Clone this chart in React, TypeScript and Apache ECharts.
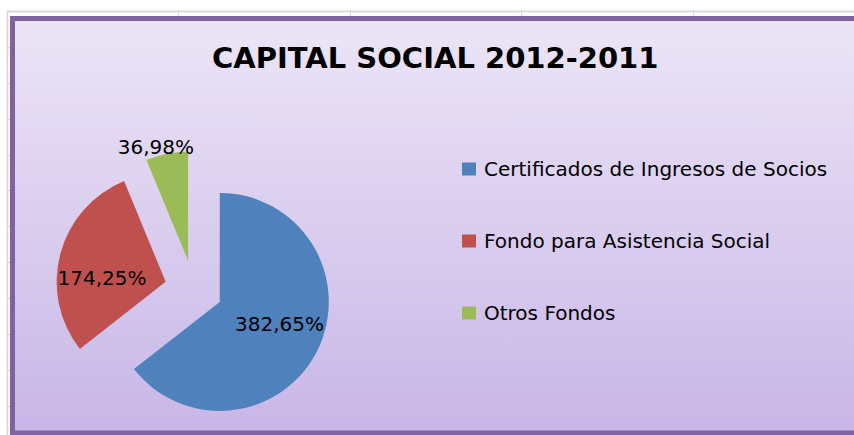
import React, { useEffect, useRef } from "react";
import * as echarts from "echarts";

const categories = [
  "Certificados de Ingresos de Socios",
  "Fondo para Asistencia Social",
  "Otros Fondos",
];
const values = [382.65, 174.25, 36.98];
const colors = ["#4F81BD", "#C0504D", "#9BBB59"];
const titleText = "CAPITAL SOCIAL 2012-2011";

// label nudges (dx, dy) per slice, styling only
const labelNudge = [
  [8, -3],
  [-8, 11],
  [-21, -57],
];

const fmt = (v: number) => v.toFixed(2).replace(".", ",") + "%";

export default function App() {
  const ref = useRef<HTMLDivElement>(null);
  useEffect(() => {
    if (!ref.current) return;
    const chart = echarts.init(ref.current, null, { renderer: "svg" });
    const W = 854;
    const H = 435;
    const rowYs = [47.5, 83.5, 119.5, 155.5, 190.5, 226.5, 262.5, 298.5, 334.5, 370.5, 406.5];
    const colXs = [178.5, 350.5, 521.5, 693.5];
    const grid: any[] = [
      {
        type: "line",
        shape: { x1: 7, y1: 11.5, x2: W, y2: 11.5 },
        style: { stroke: "#D4D4D4", lineWidth: 1.5 },
        z: 0,
      },
      {
        type: "line",
        shape: { x1: 7.5, y1: 11, x2: 7.5, y2: H },
        style: { stroke: "#D4D4D4", lineWidth: 1.5 },
        z: 0,
      },
      ...rowYs.map((y) => ({
        type: "line",
        shape: { x1: 7, y1: y, x2: 11, y2: y },
        style: { stroke: "#D4D4D4", lineWidth: 1 },
        z: 0,
      })),
      ...colXs.map((x) => ({
        type: "line",
        shape: { x1: x, y1: 11, x2: x, y2: 17 },
        style: { stroke: "#D4D4D4", lineWidth: 1 },
        z: 0,
      })),
      {
        type: "rect",
        shape: { x: 12.5, y: 18.5, width: W + 20, height: 414.5 },
        style: {
          fill: new echarts.graphic.LinearGradient(0, 0, 0, 1, [
            { offset: 0, color: "#ECE5F6" },
            { offset: 1, color: "#C8B6E7" },
          ]),
          stroke: "#7F63A1",
          lineWidth: 5,
        },
        z: 1,
      },
    ];
    chart.setOption({
      animation: false,
      backgroundColor: "#FFFFFF",
      graphic: { elements: grid },
      title: {
        text: titleText,
        left: 212,
        top: 43,
        padding: 0,
        textStyle: {
          fontFamily: "DejaVu Sans",
          fontSize: 29,
          fontWeight: "bold",
          color: "#000",
        },
      },
      legend: {
        data: categories,
        orient: "vertical",
        left: 462,
        top: 159,
        padding: 0,
        itemWidth: 14,
        itemHeight: 13,
        itemGap: 52,
        icon: "rect",
        selectedMode: false,
        textStyle: {
          fontFamily: "DejaVu Sans",
          fontSize: 20,
          lineHeight: 20,
          color: "#000",
          padding: [0, 0, 0, 3],
        },
      },
      series: [
        {
          type: "pie",
          center: [193.7, 289.2],
          radius: 109,
          startAngle: 90,
          clockwise: true,
          selectedMode: "multiple",
          selectedOffset: 29,
          silent: true,
          z: 5,
          label: {
            show: true,
            position: "inside",
            formatter: (p: any) => fmt(p.value),
            fontFamily: "DejaVu Sans",
            fontSize: 20,
            color: "#000",
          },
          labelLine: { show: false },
          labelLayout: (p: any) => {
            const n = labelNudge[p.dataIndex] || [0, 0];
            return { dx: n[0], dy: n[1] };
          },
          emphasis: { disabled: true },
          select: { itemStyle: { borderWidth: 0 } },
          itemStyle: { borderWidth: 0 },
          data: categories.map((name, i) => ({
            name,
            value: values[i],
            selected: true,
            itemStyle: { color: colors[i] },
          })),
        },
      ],
    });
    return () => chart.dispose();
  }, []);
  return (
    <div
      ref={ref}
      style={{ position: "fixed", left: 0, top: 0, width: 854, height: 435 }}
    />
  );
}
